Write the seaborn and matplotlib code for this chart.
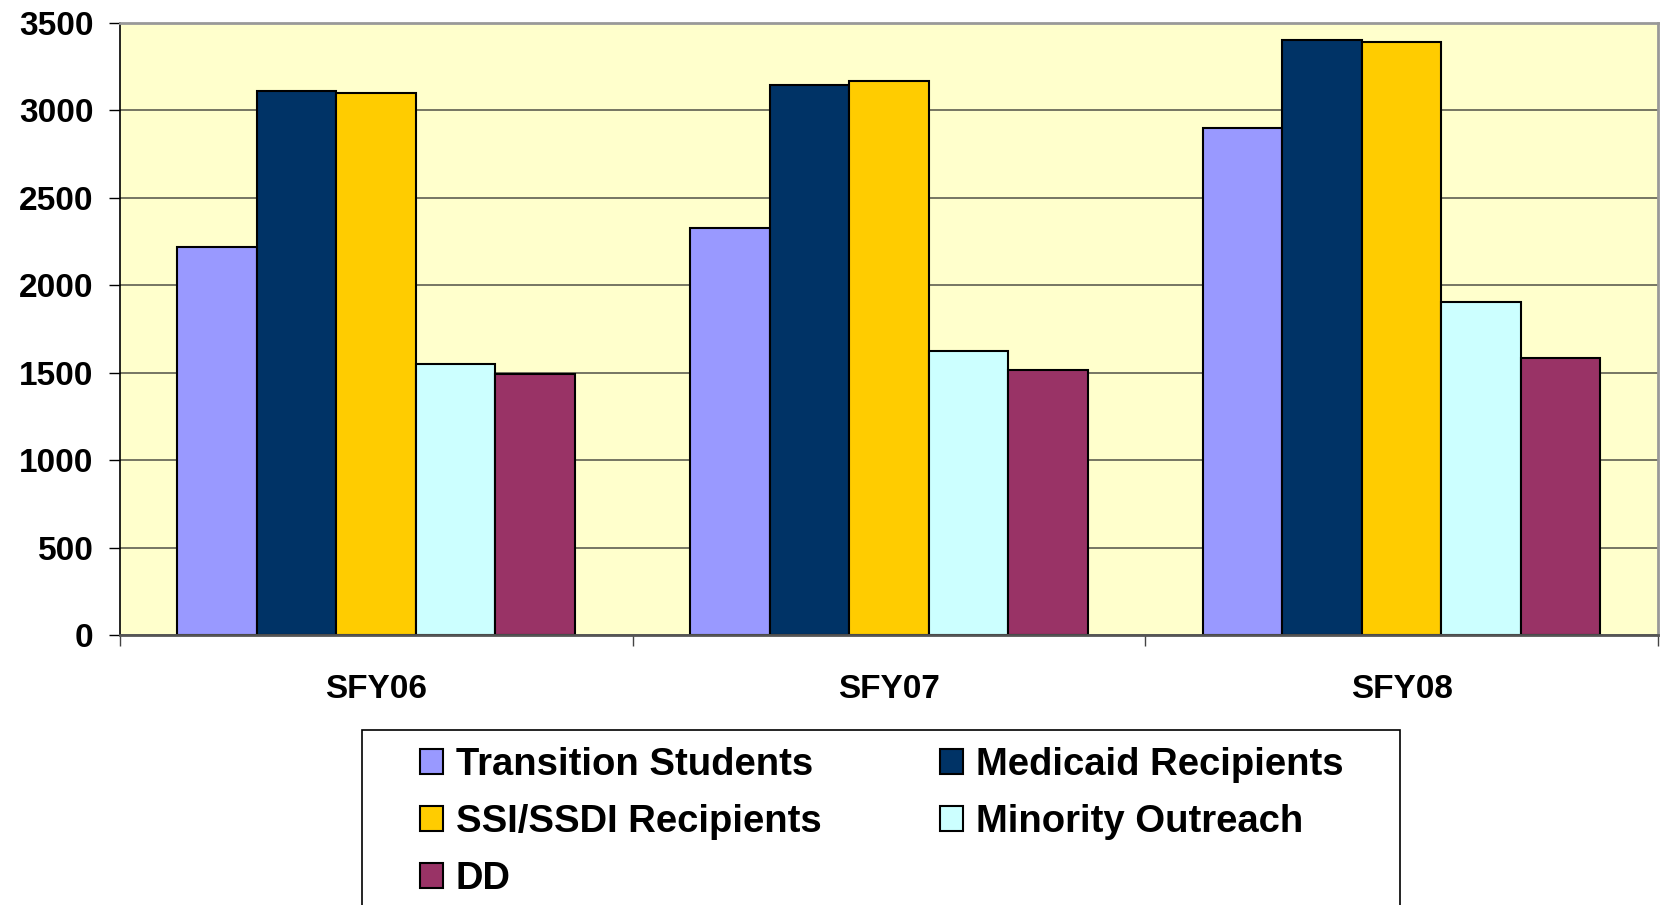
import pandas as pd
import matplotlib.pyplot as plt
import seaborn as sns
from matplotlib.patches import Rectangle

# Data
years = ['SFY06', 'SFY07', 'SFY08']
programs = ['Transition Students', 'Medicaid Recipients', 'SSI/SSDI Recipients',
            'Minority Outreach', 'DD']
transition = [2222, 2330, 2902]
medicaid = [3111, 3146, 3401]
ssi = [3098, 3170, 3389]
minority = [1553, 1626, 1903]
dd = [1492, 1517, 1587]
colors = ['#9999FF', '#003366', '#FFCC00', '#CCFFFF', '#993366']

series = [transition, medicaid, ssi, minority, dd]
rows = []
for prog, vals in zip(programs, series):
    for yr, v in zip(years, vals):
        rows.append({'Year': yr, 'Program': prog, 'Count': v})
data = pd.DataFrame(rows)

sns.set_style('white')
plt.rcParams['font.family'] = ['Liberation Sans', 'DejaVu Sans']
plt.rcParams['font.weight'] = 'bold'
plt.rcParams['text.color'] = 'black'
plt.rcParams['xtick.color'] = 'black'
plt.rcParams['ytick.color'] = 'black'

fig = plt.figure(figsize=(16.61, 9.05), dpi=100)
ax = fig.add_axes([0.0721, 0.2978, 0.9982 - 0.0721, 0.9746 - 0.2978])
ax.set_facecolor('#FFFFCC')

sns.barplot(data=data, x='Year', y='Count', hue='Program', hue_order=programs,
            palette=colors, saturation=1, width=0.775, gap=0, edgecolor='black',
            linewidth=1.5, errorbar=None, ax=ax)

ax.set_xlim(-0.5, 2.5)
ax.set_ylim(0, 3500)
ax.set_yticks(range(0, 3501, 500))
ax.set_axisbelow(True)
ax.yaxis.grid(True, color='#6b6b5a', linewidth=1.3)
ax.set_xlabel('')
ax.set_ylabel('')

# tick marks between categories, labels centred
ax.set_xticks([-0.5, 0.5, 1.5, 2.5], minor=True)
ax.tick_params(axis='x', which='minor', length=8, width=1, color='#444444', direction='out', bottom=True)
ax.tick_params(axis='x', which='major', length=0, pad=28, labelsize=24, labelcolor='black')
ax.tick_params(axis='y', length=8, width=1, color='black', direction='out', left=True, pad=11,
               labelsize=24, labelcolor='black')
for lab in ax.get_xticklabels() + ax.get_yticklabels():
    lab.set_fontweight('bold')

for side in ['top', 'right']:
    ax.spines[side].set_color('#999999')
    ax.spines[side].set_linewidth(2)
ax.spines['left'].set_color('black')
ax.spines['left'].set_linewidth(1.2)
ax.spines['bottom'].set_color('#555555')
ax.spines['bottom'].set_linewidth(2)

# legend laid out row-wise like the original (two columns)
handles, labels = ax.get_legend_handles_labels()
ax.get_legend().remove()
order = [0, 2, 4, 1, 3]
leg = fig.legend([handles[i] for i in order], [labels[i] for i in order],
                 loc='upper left', bbox_to_anchor=(400.5 / 1661, 1 - 728 / 905),
                 bbox_transform=fig.transFigure, ncol=2, frameon=False,
                 borderpad=0, handlelength=0.6, handleheight=0.65, handletextpad=0.35,
                 columnspacing=3.1, labelspacing=0.55,
                 prop={'family': 'Liberation Sans', 'weight': 'bold', 'size': 27.5})
for t in leg.get_texts():
    t.set_color('black')

# legend frame, running off the bottom of the image
fig.patches.append(Rectangle((362 / 1661, -0.05), (1400 - 362) / 1661, 0.05 + 1 - 730 / 905,
                             transform=fig.transFigure, fill=False,
                             edgecolor='black', linewidth=1.2))

fig.savefig('out.png', dpi=100)
